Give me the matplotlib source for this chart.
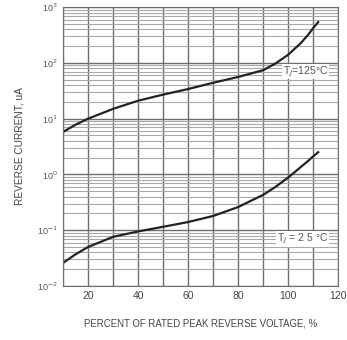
import matplotlib
matplotlib.use("Agg")
import matplotlib.pyplot as plt
import numpy as np
from matplotlib.ticker import FixedLocator, LogLocator, NullFormatter

plt.rcParams['font.family'] = ['Liberation Sans Narrow', 'Liberation Sans', 'DejaVu Sans']

# percent of rated peak reverse voltage
pct = [10, 15, 20, 30, 40, 50, 60, 70, 80, 90, 95, 100, 105, 108, 110, 112]
# reverse current, uA
i_125 = [5.8, 7.8, 10, 15, 21, 27, 34, 44, 56, 74, 98, 140, 225, 320, 420, 540]
i_25 = [0.026, 0.037, 0.05, 0.076, 0.095, 0.115, 0.14, 0.18, 0.26, 0.43, 0.6, 0.88, 1.35, 1.75, 2.1, 2.5]

x_ticks = [20, 40, 60, 80, 100, 120]
y_decades = [1e-2, 1e-1, 1e0, 1e1, 1e2, 1e3]
y_labels = ["10$^{-2}$", "10$^{-1}$", "10$^{0}$", "10$^{1}$", "10$^{2}$", "10$^{3}$"]

fig = plt.figure(figsize=(3.47, 3.40), dpi=100)
ax = fig.add_axes([0.182, 0.159, 0.7925, 0.82])

ax.set_yscale("log")
ax.set_xlim(10, 120)
ax.set_ylim(1e-2, 1e3)

# grid: dark verticals every 10 %, lighter log minor lines
ax.xaxis.set_minor_locator(FixedLocator(np.arange(10, 121, 10)))
ax.yaxis.set_minor_locator(LogLocator(base=10, subs=np.arange(2, 10) * 1.0, numticks=20))
ax.yaxis.set_minor_formatter(NullFormatter())
ax.grid(True, which="major", color="#6e6e6e", lw=1.0)
ax.grid(True, which="minor", axis="x", color="#6e6e6e", lw=1.0)
ax.grid(True, which="minor", axis="y", color="#a8a8a8", lw=0.8)
ax.set_axisbelow(True)

ax.plot(pct, i_125, color="#222222", lw=1.6)
ax.plot(pct, i_25, color="#222222", lw=1.6)

ax.set_xticks(x_ticks)
ax.set_xticklabels([str(t) for t in x_ticks], fontsize=7.5, color="#444444")
ax.set_yticks(y_decades)
ax.set_yticklabels(y_labels, fontsize=6.5, color="#555555")
ax.tick_params(which="both", length=0, pad=4)
for s in ax.spines.values():
    s.set_color("#6e6e6e")

box = dict(facecolor="white", edgecolor="none", pad=0.5)
ax.text(116, 70, "T$_J$=125°C", fontsize=7.5, color="#555555", ha="right", va="center", bbox=box)
ax.text(116, 0.07, "T$_J$ = 2 5 °C", fontsize=7.5, color="#555555", ha="right", va="center", bbox=box)

ax.set_xlabel("PERCENT OF RATED PEAK REVERSE VOLTAGE, %", fontsize=6.9, color="#444444", labelpad=12)
ax.set_ylabel("REVERSE CURRENT, uA", fontsize=7.3, color="#444444", labelpad=9)

fig.savefig("out.png", dpi=100)
